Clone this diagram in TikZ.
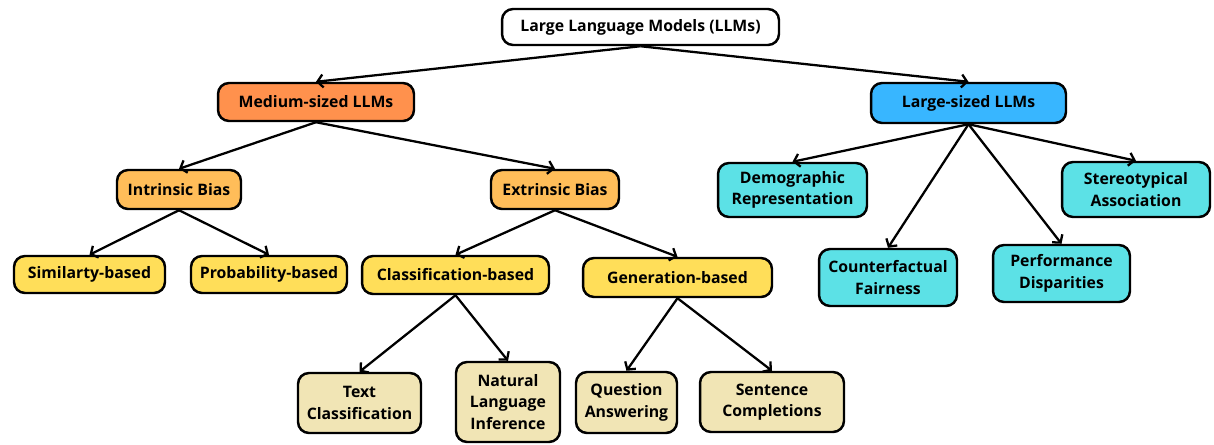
\documentclass[tikz,border=0pt]{standalone}
\usepackage{fontspec}
\setmainfont{Open Sans}
\usepackage{tikz}
\usetikzlibrary{positioning, arrows.meta}
\usepackage{xcolor}

\definecolor{medorange}{HTML}{FF914D}
\definecolor{largeblue}{HTML}{38B6FF}
\definecolor{biasorange}{HTML}{FFBD59}
\definecolor{methodyellow}{HTML}{FFDE59}
\definecolor{taskbeige}{HTML}{F1E5B5}
\definecolor{evalcyan}{HTML}{5CE1E6}

\begin{document}
\begin{tikzpicture}[
    x=0.02cm, y=-0.02cm,
    box/.style={rectangle, rounded corners=2.2mm, draw, line width=1.4pt, align=center,
        inner sep=0pt, font=\bfseries\fontsize{9}{12.2}\selectfont},
    link/.style={-{Straight Barb[length=1.1mm, width=2.6mm]}, line width=1.3pt}
]
\useasboundingbox (0,0) rectangle (1214,444);

\node[box, fill=white, minimum width=5.54cm, minimum height=0.72cm] (llm) at (640.5,27) {Large Language Models (LLMs)};

\node[box, fill=medorange, minimum width=3.92cm, minimum height=0.76cm] (medium) at (316,102) {Medium-sized LLMs};
\node[box, fill=largeblue, minimum width=3.90cm, minimum height=0.80cm] (large) at (968.5,103) {Large-sized LLMs};

% medium-sized branch
\node[box, fill=biasorange, minimum width=2.48cm, minimum height=0.78cm] (intrinsic) at (179,189.5) {Intrinsic Bias};
\node[box, fill=biasorange, minimum width=2.56cm, minimum height=0.78cm] (extrinsic) at (555,189.5) {Extrinsic Bias};

\node[box, fill=methodyellow, minimum width=3.02cm, minimum height=0.74cm] (similarity) at (89.5,274.5) {Similarty-based};
\node[box, fill=methodyellow, minimum width=3.12cm, minimum height=0.74cm] (probability) at (269,274.5) {Probability-based};
\node[box, fill=methodyellow, minimum width=3.74cm, minimum height=0.76cm] (classification) at (455.5,275) {Classification-based};
\node[box, fill=methodyellow, minimum width=3.78cm, minimum height=0.78cm] (generation) at (677.5,277.5) {Generation-based};

\node[box, fill=taskbeige, minimum width=2.46cm, minimum height=1.20cm] (textcls) at (359.5,403) {Text\\Classification};
\node[box, fill=taskbeige, minimum width=2.08cm, minimum height=1.60cm] (nli) at (508,402) {Natural\\Language\\Inference};
\node[box, fill=taskbeige, minimum width=2.02cm, minimum height=1.22cm] (qa) at (626.5,402.5) {Question\\Answering};
\node[box, fill=taskbeige, minimum width=2.88cm, minimum height=1.20cm] (sentence) at (772,402) {Sentence\\Completions};

% large-sized branch
\node[box, fill=evalcyan, minimum width=2.98cm, minimum height=1.08cm] (demographic) at (792.5,190) {Demographic\\Representation};
\node[box, fill=evalcyan, minimum width=2.96cm, minimum height=1.10cm] (stereotypical) at (1136,189.5) {Stereotypical\\Association};
\node[box, fill=evalcyan, minimum width=2.76cm, minimum height=1.14cm] (counterfactual) at (888,277.5) {Counterfactual\\Fairness};
\node[box, fill=evalcyan, minimum width=2.74cm, minimum height=1.14cm] (performance) at (1061.5,273.5) {Performance\\Disparities};

\draw[link] (llm.south) -- (medium.north);
\draw[link] (llm.south) -- (large.north);

\draw[link] (medium.south) -- (intrinsic.north);
\draw[link] (medium.south) -- (extrinsic.north);
\draw[link] (intrinsic.south) -- (similarity.north);
\draw[link] (intrinsic.south) -- (probability.north);
\draw[link] (extrinsic.south) -- (classification.north);
\draw[link] (extrinsic.south) -- (generation.north);
\draw[link] (classification.south) -- (textcls.north);
\draw[link] (classification.south) -- (nli.north);
\draw[link] (generation.south) -- (qa.north);
\draw[link] (generation.south) -- (sentence.north);

\draw[link] (large.south) -- (demographic.north);
\draw[link] (large.south) -- (stereotypical.north);
\draw[link] (large.south) -- (counterfactual.north);
\draw[link] (large.south) -- (performance.north);

\end{tikzpicture}
\end{document}
